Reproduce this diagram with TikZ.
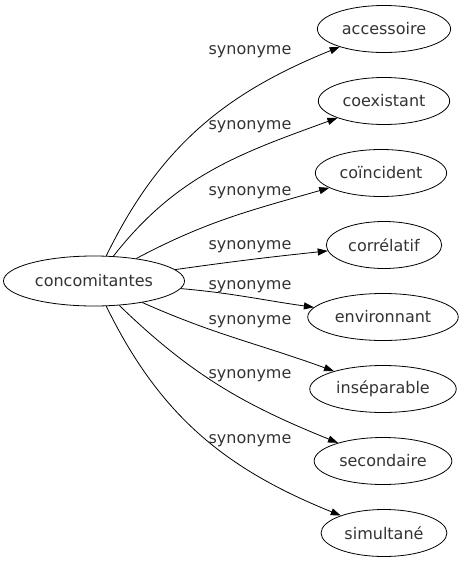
\documentclass[tikz,border=0pt]{standalone}
\usepackage{fontspec}
\setmainfont{DejaVu Sans}
\usetikzlibrary{arrows.meta,shapes.geometric}
\definecolor{txt}{RGB}{51,51,51}
\begin{document}
\begin{tikzpicture}[x=1pt,y=-1pt,
  every node/.style={font=\fontsize{16}{19}\selectfont, text=txt},
  term/.style={draw, ellipse, line width=0.8pt, inner xsep=5pt, minimum height=47pt},
  lbl/.style={inner sep=0pt},
  syn/.style={line width=0.8pt, -{Triangle[length=10pt,width=7pt]}}]
\useasboundingbox (0,0) rectangle (466,563);
\node[term, minimum height=50pt] (s) at (94,281) {concomitantes};
\node[term] (t1) at (384,29) {accessoire};
\node[term] (t2) at (384,101) {coexistant};
\node[term] (t3) at (381,173) {coïncident};
\node[term] (t4) at (384,245) {corrélatif};
\node[term] (t5) at (383,317) {environnant};
\node[term] (t6) at (383,389) {inséparable};
\node[term] (t7) at (383,461) {secondaire};
\node[term] (t8) at (384,533) {simultané};
\draw[syn] (s) to[out=64,in=202] (t1);
\draw[syn] (s) to[out=52,in=200] (t2);
\draw[syn] (s) to[out=28,in=196] (t3);
\draw[syn] (s) to[out=8,in=186] (t4);
\draw[syn] (s) to[out=-5,in=172] (t5);
\draw[syn] (s) to[out=-24,in=160] (t6);
\draw[syn] (s) to[out=-44,in=158] (t7);
\draw[syn] (s) to[out=-64,in=158] (t8);
\node[lbl] (l1) at (250,52) {synonyme};
\node[lbl] (l2) at (250,127) {synonyme};
\node[lbl] (l3) at (250,193) {synonyme};
\node[lbl] (l4) at (250,247) {synonyme};
\node[lbl] (l5) at (250,287) {synonyme};
\node[lbl] (l6) at (250,322) {synonyme};
\node[lbl] (l7) at (250,376) {synonyme};
\node[lbl] (l8) at (250,441) {synonyme};
\end{tikzpicture}
\end{document}
